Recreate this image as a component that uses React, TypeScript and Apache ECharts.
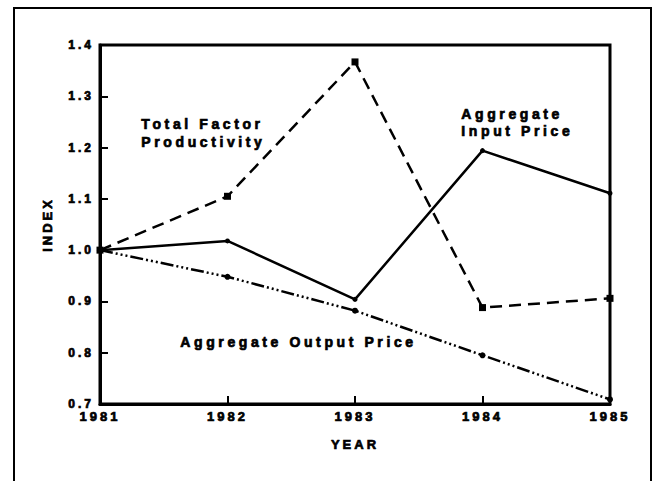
import React, { useEffect, useRef } from "react";
import * as echarts from "echarts";

const years = [1981, 1982, 1983, 1984, 1985];
const tfp = [1.0, 1.105, 1.367, 0.888, 0.906];
const inputPrice = [1.0, 1.018, 0.904, 1.194, 1.111];
const outputPrice = [1.0, 0.948, 0.882, 0.795, 0.709];
const yTicks = [0.7, 0.8, 0.9, 1.0, 1.1, 1.2, 1.3, 1.4];

const FONT = "Liberation Sans, Arial, Helvetica, sans-serif";
const heavy = { textBorderColor: "#000", textBorderWidth: 0.7 };

export default function App() {
  const ref = useRef<HTMLDivElement>(null);
  useEffect(() => {
    if (!ref.current) return;
    const chart = echarts.init(ref.current, undefined, { renderer: "svg" });
    const pts = (vals: number[]) => years.map((y, i) => [y, vals[i]]);
    const ann = (text: string, left: number, top: number) => ({
      type: "text",
      left,
      top,
      style: { text, font: `bold 14px ${FONT}`, fill: "#000", stroke: "#000", lineWidth: 0.7 },
    });
    chart.setOption({
      animation: false,
      backgroundColor: "#ffffff",
      grid: { left: 100, right: 45, top: 45, bottom: 77, show: true, borderColor: "#000", borderWidth: 3 },
      xAxis: {
        type: "value",
        min: 1981,
        max: 1985,
        interval: 1,
        name: "YEAR",
        nameLocation: "middle",
        nameGap: 34,
        nameTextStyle: { fontFamily: FONT, fontWeight: "bold", fontSize: 13, color: "#000", ...heavy },
        axisLine: { show: true, lineStyle: { color: "#000", width: 3 } },
        axisTick: { show: true, inside: true, length: 8, lineStyle: { color: "#000", width: 2 } },
        axisLabel: { fontFamily: FONT, fontWeight: "bold", fontSize: 13, color: "#000", margin: 6, ...heavy, formatter: (v: number) => String(v) },
        splitLine: { show: false },
      },
      yAxis: {
        type: "value",
        min: 0.7,
        max: 1.4,
        interval: 0.1,
        name: "INDEX",
        nameLocation: "middle",
        nameGap: 46,
        nameRotate: 90,
        nameTextStyle: { fontFamily: FONT, fontWeight: "bold", fontSize: 13, color: "#000", ...heavy },
        axisLine: { show: true, lineStyle: { color: "#000", width: 3 } },
        axisTick: { show: true, inside: true, length: 8, lineStyle: { color: "#000", width: 2 } },
        axisLabel: {
          fontFamily: FONT, fontWeight: "bold", fontSize: 12, color: "#000", margin: 6, ...heavy,
          formatter: (v: number) => {
            const t = yTicks.find((k) => Math.abs(k - v) < 1e-6);
            return (t !== undefined ? t : v).toFixed(1);
          },
        },
        splitLine: { show: false },
      },
      series: [
        {
          name: "Total Factor Productivity",
          type: "line",
          data: pts(tfp),
          symbol: "rect",
          symbolSize: 7,
          itemStyle: { color: "#000" },
          lineStyle: { color: "#000", width: 2.5, type: [12, 7] },
        },
        {
          name: "Aggregate Input Price",
          type: "line",
          data: pts(inputPrice),
          symbol: "circle",
          symbolSize: 5,
          itemStyle: { color: "#000" },
          lineStyle: { color: "#000", width: 2.5, type: "solid" },
        },
        {
          name: "Aggregate Output Price",
          type: "line",
          data: pts(outputPrice),
          symbol: "circle",
          symbolSize: 6,
          itemStyle: { color: "#000" },
          lineStyle: { color: "#000", width: 2.5, type: [13, 3, 2, 3, 2, 3, 2, 3] },
        },
      ],
      graphic: [
        {
          type: "polyline",
          shape: { points: [[14, 481], [14, 8], [651, 8], [651, 481]] },
          style: { stroke: "#000", lineWidth: 2, fill: "none" },
        },
        ann("Total Factor", 141, 117),
        ann("Productivity", 141, 135),
        ann("Aggregate", 461, 107),
        ann("Input Price", 461, 124),
        ann("Aggregate Output Price", 180, 335),
      ],
    });
    return () => chart.dispose();
  }, []);
  return (
    <>
      <style>{`body{margin:0} .chartbox text{letter-spacing:3px} .chartbox text[style*="14px"]{letter-spacing:3.6px}`}</style>
      <div className="chartbox" ref={ref} style={{ position: "absolute", left: 0, top: 0, width: 655, height: 481 }} />
    </>
  );
}
